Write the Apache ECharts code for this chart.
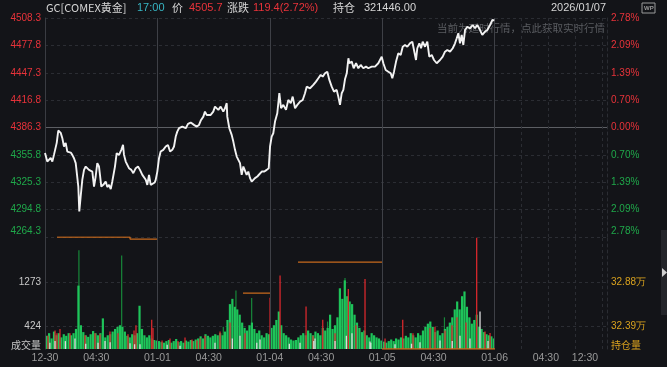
<!DOCTYPE html>
<html>
<head>
<meta charset="utf-8">
<script src="https://cdn.jsdelivr.net/npm/echarts@6/dist/echarts.min.js"></script>
<style>
html,body{margin:0;padding:0;background:#131418;}
#c{width:667px;height:367px;}
</style>
</head>
<body>
<div id="c"></div>
<script>
// ---------------- DATA ----------------
// minutes from session start (12-30 18:00); each trading session = 1380 minutes
const priceTimes = [0,28,70,90,110,144,163,193,212,233,254,274,295,316,335,356,377,384,397,409,421,438,458,479,500,519,540,561,581,602,622,642,663,675,691,716,745,765,786,807,826,847,859,880,909,937,958,970,991,1010,1031,1060,1084,1114,1142,1166,1195,1216,1237,1256,1277,1298,1317,1347,1359,1379,1400,1420,1452,1482,1510,1535,1563,1584,1605,1624,1645,1686,1728,1756,1789,1829,1863,1891,1912,1944,1964,1985,2005,2034,2066,2087,2128,2157,2189,2210,2231,2238,2263,2292,2312,2333,2354,2373,2394,2415,2435,2456,2476,2496,2517,2538,2558,2578,2607,2631,2661,2693,2722,2747,2763,2783,2803,2824,2852,2877,2898,2926,2959,2987,3017,3041,3070,3098,3131,3164,3192,3213,3254,3294,3327,3356,3385,3410,3438,3466,3491,3520,3548,3581,3601,3622,3643,3663,3684,3705,3725,3737,3766,3790,3819,3847,3876,3908,3941,3970,4011,4052,4092,4134,4154,4183,4215,4245,4264,4285,4310,4338,4367,4392,4420,4448,4481,4510,4531,4555,4571,4596,4617,4637,4666,4694,4718,4748,4776,4809,4829,4850,4883,4911,4939,4973,5006,5034,5055,5075,5095,5116,5136,5157,5185,5218,5251,5280,5308,5341,5369,5402,5431,5464,5493,5517];
const priceValues = [4358.0,4348.3,4352.5,4348.3,4355.8,4369.2,4382.9,4380.3,4374.7,4365.1,4369.2,4359.5,4361.4,4358.4,4355.8,4352.1,4346.6,4341.0,4339.1,4320.5,4292.7,4309.4,4328.0,4339.1,4342.8,4344.7,4339.1,4341.0,4337.2,4320.5,4331.7,4346.6,4342.8,4333.5,4320.5,4322.4,4326.1,4319.9,4322.4,4317.6,4326.1,4328.0,4342.8,4357.7,4355.8,4361.4,4366.9,4355.8,4348.3,4350.2,4341.0,4339.1,4335.4,4341.0,4342.8,4339.1,4333.5,4331.7,4328.0,4322.4,4333.5,4322.4,4324.3,4325.0,4328.0,4337.2,4352.1,4359.5,4361.4,4365.1,4366.9,4359.5,4361.4,4365.1,4376.2,4381.7,4385.5,4387.3,4385.5,4390.3,4391.8,4389.2,4387.3,4389.2,4394.0,4398.4,4404.0,4400.3,4398.4,4400.3,4404.0,4409.6,4405.9,4409.6,4404.0,4407.8,4413.4,4398.4,4385.5,4378.1,4370.6,4361.4,4353.9,4355.8,4346.6,4333.5,4342.8,4341.0,4333.5,4337.2,4329.9,4326.1,4324.3,4329.9,4331.7,4333.5,4337.2,4337.2,4339.1,4341.0,4365.1,4376.2,4379.9,4392.9,4402.2,4424.5,4407.8,4411.5,4405.9,4417.0,4413.4,4420.7,4407.8,4411.5,4415.1,4417.0,4424.5,4431.8,4430.0,4433.7,4437.4,4441.2,4444.9,4443.0,4446.7,4448.5,4439.3,4431.8,4426.3,4428.2,4420.7,4411.5,4424.5,4428.2,4440.4,4446.7,4463.4,4457.9,4459.7,4452.3,4457.9,4452.3,4456.0,4452.3,4454.1,4452.3,4454.1,4454.1,4457.9,4465.2,4457.9,4450.4,4448.5,4446.7,4441.2,4448.5,4459.7,4469.0,4467.1,4476.3,4478.2,4476.3,4480.1,4481.9,4480.1,4461.5,4474.6,4480.1,4474.6,4481.9,4476.3,4481.9,4465.2,4467.1,4461.5,4457.9,4456.0,4461.5,4465.2,4470.8,4472.7,4470.8,4474.6,4480.1,4485.7,4491.3,4480.1,4489.4,4478.2,4494.9,4498.6,4496.8,4500.5,4496.8,4500.5,4494.9,4489.4,4493.1,4494.9,4500.5,4506.1,4505.7];

// volume per 30-minute slot (up / green)
const volSlotMinutes = 30;
const volBase = [250,300,200,330,260,300,220,280,250,300,260,300,380,1200,450,320,260,230,280,340,300,260,300,580,220,260,280,330,380,420,450,420,330,250,220,280,260,300,819,380,260,220,260,200,170,160,
150,130,120,150,170,120,150,190,130,150,120,160,140,170,150,180,200,240,200,280,250,220,250,280,260,300,260,330,550,850,950,800,750,650,500,400,350,450,500,380,300,350,260,220,300,280,
400,450,550,710,450,300,260,220,180,160,170,220,260,300,260,350,300,260,330,300,260,400,350,400,650,380,450,600,1150,950,1300,1000,900,850,650,500,400,320,350,260,220,300,260,220,200,160,
140,120,150,180,150,200,180,220,200,250,220,300,260,220,300,260,350,420,480,520,420,320,350,260,300,380,420,500,600,750,900,750,1000,1090,800,600,480,550,650,420,380,320,280,260,240,200];
// tall dark-green spikes
const volSpikeTimes = [417,942,2345,2538,3684,1166,2190,3470,4905,5130];
const volSpikeValues = [1872,1771,1110,965,1346,380,420,520,600,820];
// down (red) volume
const volDownTimes = [37,123,147,184,307,491,614,675,798,896,1019,1093,1117,1310,1326,1437,1535,1633,1719,1805,1866,1903,1964,2149,2271,2456,2763,2886,3205,3291,3410,3561,3724,3818,3929,4175,4392,4518,4727,4788,4911,4997,5058,5169,5300,5402,5464];
const volDownValues = [250,350,300,380,300,260,300,280,330,300,280,350,450,552,400,160,200,150,220,180,160,200,250,330,500,300,970,1390,805,250,552,300,1136,450,1327,200,552,300,400,420,350,450,600,500,2108,330,305];
// flat (white) volume
const volFlatTimes = [60,123,250,368,500,651,737,800,1044,1100,1166,1500,1658,2087,2300,2394,2600,2640,3000,3131,3300,3315,3561,3700,3769,3990,4000,4297,4500,4604,4850,5000,5095,5218,5341,5439];
const volFlatValues = [120,150,150,200,100,120,150,130,110,90,90,80,60,120,200,250,120,180,100,120,150,200,150,250,300,140,120,90,100,130,160,150,250,200,710,150];

// open interest
const oiTimes = [147,1044,1044,1375,null,2431,2763,null,3106,4138,null,4138,5525];
const oiValues = [333710,333710,333490,333490,null,327560,327560,null,330960,330960,null,321446,321446];

// axis ticks
const priceMin = 4264.3, priceMax = 4508.3;
const priceTickLabels = ['4264.3','4294.8','4325.3','4355.8','4386.3','4416.8','4447.3','4477.8','4508.3'];
const pctTickLabels = ['2.78%','2.09%','1.39%','0.70%','0.00%','0.70%','1.39%','2.09%','2.78%'];
const prevClose = 4386.3;
const volMax = 2121;
const volTickLabels = ['成交量','424','','1273','',''];
const oiMin = 321446, oiMax = 333716;
const oiTickLabels = ['持仓量','32.39万','','32.88万','',''];
const xLabelPos = [0,630,1380,2010,2760,3390,4140,4770,5520,6150,6630];
const xLabelText = ['12-30','04:30','01-01','04:30','01-04','04:30','01-05','04:30','01-06','04:30','12:30'];
const sessionBounds = [1380,2760,4140,5520];
const futureLines = [5850,6180,6510,6840,6900];
const totalMinutes = 6900;

// ---------------- CHART ----------------
const RED='#e8333a', GREEN='#1fa84a', GRAY='#8e8e8e', GOLD='#d9a21e';
const chart = echarts.init(document.getElementById('c'), null, {renderer:'canvas'});
const gridLine = {show:true, lineStyle:{color:'#2b2d33', type:[3,3], width:1}};
const priceData = priceTimes.map((t,i)=>[t,priceValues[i]]);
const volData = volBase.map((v,i)=>[i*volSlotMinutes+15, v]);
const spikeData = volSpikeTimes.map((t,i)=>[t,volSpikeValues[i]]);
const downData = volDownTimes.map((t,i)=>[t,volDownValues[i]]);
const flatData = volFlatTimes.map((t,i)=>[t,volFlatValues[i]]);
const oiData = oiTimes.map((t,i)=> t===null ? [null,null] : [t,oiValues[i]]);
const font = 'Liberation Sans, Arial, sans-serif';
const cjk = '"Noto Sans CJK SC", sans-serif';

function vLines(list, color, type){
  return list.map(x=>({xAxis:x, lineStyle:{color:color, type:type, width:1}}));
}

const option = {
  backgroundColor:'#131418',
  animation:false,
  textStyle:{fontFamily:font},
  grid:[
    {left:45, right:60, top:18, height:219},
    {left:45, right:60, top:237, height:112}
  ],
  xAxis:[
    {gridIndex:0, type:'value', min:0, max:totalMinutes, show:false},
    {gridIndex:1, type:'value', min:0, max:totalMinutes, interval:30,
      axisLine:{show:false}, axisTick:{show:false}, splitLine:{show:false},
      axisLabel:{show:true, margin:4, fontSize:10.5, fontFamily:font,
        formatter:function(v){ const k=xLabelPos.indexOf(v); return k<0?'':xLabelText[k]; },
        color:function(v){ const k=xLabelPos.indexOf(v); return (k>=0 && xLabelText[k].indexOf('-')>0)?GOLD:'#9a9a9a'; }
      }
    }
  ],
  yAxis:[
    {gridIndex:0, type:'value', min:priceMin, max:priceMax, show:false},
    {gridIndex:0, type:'value', min:0, max:8, interval:1, position:'left',
      axisLine:{show:true, lineStyle:{color:'#3a3c42'}}, axisTick:{show:false},
      splitLine:gridLine,
      axisLabel:{fontSize:10, margin:4, fontFamily:font,
        formatter:function(v){ const s=priceTickLabels[v]; return v===0?'{lo|'+s+'}':s; },
        color:function(v){ return v<4?GREEN:(v===4?GRAY:RED); },
        rich:{lo:{padding:[0,0,11,0], color:GREEN, fontSize:10}}
      }
    },
    {gridIndex:0, type:'value', min:0, max:8, interval:1, position:'right',
      axisLine:{show:true, lineStyle:{color:'#2b2d33', type:[3,3]}}, axisTick:{show:false},
      splitLine:{show:false},
      axisLabel:{fontSize:10, margin:4, fontFamily:font,
        formatter:function(v){ const s=pctTickLabels[v]; return v===0?'{lo|'+s+'}':s; },
        color:function(v){ return v<4?GREEN:(v===4?GRAY:RED); },
        rich:{lo:{padding:[0,0,11,0], color:GREEN, fontSize:10}}
      }
    },
    {gridIndex:1, type:'value', min:0, max:volMax, interval:volMax/5, position:'left',
      axisLine:{show:true, lineStyle:{color:'#3a3c42'}}, axisTick:{show:false},
      splitLine:{show:true, lineStyle:{color:['rgba(0,0,0,0)','#2b2d33','rgba(0,0,0,0)','#2b2d33','rgba(0,0,0,0)','#2b2d33'], type:[3,3]}},
      axisLabel:{fontSize:10, margin:4, color:'#c8c8c8', fontFamily:font,
        formatter:function(v){ const k=Math.round(v/(volMax/5)); const s=volTickLabels[k]||''; return k===0?'{lo|'+s+'}':s; },
        rich:{lo:{padding:[0,0,8,0], color:'#c8c8c8', fontSize:10, fontFamily:cjk}}
      }
    },
    {gridIndex:1, type:'value', min:0, max:5, interval:1, position:'right',
      axisLine:{show:true, lineStyle:{color:'#2b2d33', type:[3,3]}}, axisTick:{show:false}, splitLine:{show:false},
      axisLabel:{fontSize:10, margin:4, color:GOLD, fontFamily:font,
        formatter:function(v){ const s=oiTickLabels[v]||''; return v===0?'{lo|'+s+'}':s; },
        rich:{lo:{padding:[0,0,8,0], color:GOLD, fontSize:10, fontFamily:cjk}}
      }
    },
    {gridIndex:1, type:'value', min:oiMin, max:oiMax, show:false}
  ],
  graphic:[
    {type:'text', left:437, top:23, z:0, style:{text:'当前为延时行情，点此获取实时行情', fill:'#5a5c61', font:'10.5px '+cjk}},
    {type:'text', left:46, top:2, style:{text:'GC[COMEX黄金]', fill:'#d6d6d6', font:'11px '+cjk}},
    {type:'text', left:137, top:2, style:{text:'17:00', fill:'#37b6c4', font:'11px '+font}},
    {type:'text', left:172, top:2, style:{text:'价', fill:'#d6d6d6', font:'11px '+cjk}},
    {type:'text', left:189, top:2, style:{text:'4505.7', fill:RED, font:'11px '+font}},
    {type:'text', left:227, top:2, style:{text:'涨跌', fill:'#d6d6d6', font:'11px '+cjk}},
    {type:'text', left:253, top:2, style:{text:'119.4(2.72%)', fill:RED, font:'11px '+font}},
    {type:'text', left:333, top:2, style:{text:'持仓', fill:'#d6d6d6', font:'11px '+cjk}},
    {type:'text', left:364, top:2, style:{text:'321446.00', fill:'#d6d6d6', font:'11px '+font}},
    {type:'text', left:551, top:2, style:{text:'2026/01/07', fill:'#d6d6d6', font:'11px '+font}},
    {type:'rect', shape:{x:642, y:3, width:13, height:10}, style:{fill:'none', stroke:'#9a9a9a', lineWidth:1}},
    {type:'text', left:644, top:5, style:{text:'WP', fill:'#9a9a9a', font:'bold 6px '+font}},
    {type:'rect', shape:{x:661, y:230, width:6, height:85}, style:{fill:'#24252a'}},
    {type:'polygon', shape:{points:[[662,268],[667,272.5],[662,277]]}, style:{fill:'#d0d0d0'}}
  ],
  series:[
    {type:'line', xAxisIndex:0, yAxisIndex:0, data:priceData, showSymbol:false, symbol:'none',
      lineStyle:{color:'#f2f2f2', width:1.9}, z:5,
      markLine:{silent:true, symbol:'none', label:{show:false},
        data:[{yAxis:prevClose, lineStyle:{color:'#5c5e63', type:'solid', width:1}}]
          .concat(vLines([0],'#3a3c42','solid'))
          .concat(vLines(sessionBounds,'#3e4046','solid'))
          .concat(vLines(futureLines,'#2b2d33',[3,3]))
      }
    },
    {type:'bar', xAxisIndex:1, yAxisIndex:3, data:volData, barWidth:2.2, barGap:'-100%', itemStyle:{color:'#1ec45a'}, z:2},
    {type:'bar', xAxisIndex:1, yAxisIndex:3, data:spikeData, barWidth:1.2, barGap:'-100%', itemStyle:{color:'#17883a'}, z:1},
    {type:'bar', xAxisIndex:1, yAxisIndex:3, data:downData, barWidth:1.3, barGap:'-100%', itemStyle:{color:'#d8282d'}, z:3},
    {type:'bar', xAxisIndex:1, yAxisIndex:3, data:flatData, barWidth:1.3, barGap:'-100%', itemStyle:{color:'#dcdcdc'}, z:4},
    {type:'line', xAxisIndex:1, yAxisIndex:5, data:oiData, showSymbol:false, symbol:'none', connectNulls:false,
      lineStyle:{color:'#c8691c', width:1.3}, z:6,
      markLine:{silent:true, symbol:'none', label:{show:false},
        data:vLines([0],'#3a3c42','solid').concat(vLines(sessionBounds,'#3e4046','solid')).concat(vLines(futureLines,'#2b2d33',[3,3]))
      }
    }
  ]
};
chart.setOption(option);
</script>
</body>
</html>
